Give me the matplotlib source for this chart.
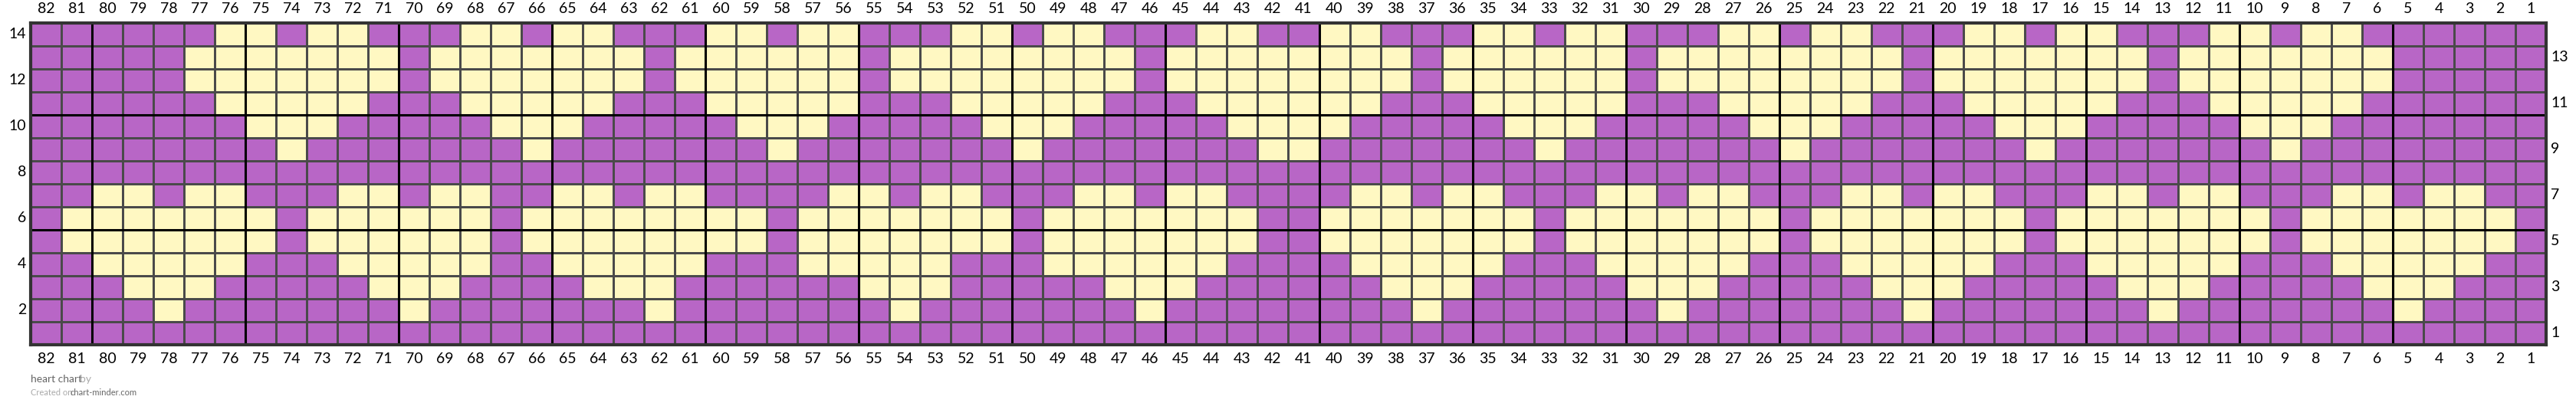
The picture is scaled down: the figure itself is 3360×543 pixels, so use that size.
import numpy as np
import matplotlib.pyplot as plt
from matplotlib.colors import ListedColormap

# stitch columns, left to right
col_numbers = list(range(82, 0, -1))
row_numbers = list(range(1, 15))

# chart rows, top (14) to bottom (1); "1" = yellow, "." = purple; cols 82..1
rows_top_down = [
    "......11.11." "..11.11...11" ".11...11.11." "..11..11...1" "1.11...11.11" "...11.11...1" "1.11......",
    ".....1111111" ".1111111.111" "111.11111111" ".11111111.11" "1111.1111111" "1.1111111.11" "11111.....",
    ".....1111111" ".1111111.111" "111.11111111" ".11111111.11" "1111.1111111" "1.1111111.11" "11111.....",
    "......11111." "..11111...11" "111...11111." "..111111...1" "1111...11111" "...11111...1" "1111......",
    ".......111.." "...111.....1" "11.....111.." "...1111....." "111.....111." "....111....." "111.......",
    "." * 82,  # row 9, filled from row9_yellow below
    "." * 82,
    "..11.11...11" ".11..11.11.." "..11.11...11" ".11....11.11" "...11.11...1" "1.11...11.11" "...11.11..",
    ".1111111.111" "111.11111111" ".1111111.111" "1111..111111" "1.1111111.11" "11111.111111" "1.1111111.",
    ".1111111.111" "111.11111111" ".1111111.111" "1111..111111" "1.1111111.11" "11111.111111" "1.1111111.",
    "..11111...11" "111..11111.." ".11111...111" "111....11111" "...11111...1" "1111...11111" "...11111..",
    "...111.....1" "11....111..." "...111.....1" "11......111." "....111....." "111.....111." "....111...",
    "." * 82,  # row 2, filled from row2_yellow below
    "." * 82,
]

# single yellow stitches (column numbers)
row9_yellow = [74, 66, 58, 50, 42, 41, 33, 25, 17, 9]
row2_yellow = [78, 70, 62, 54, 46, 37, 29, 21, 13, 5]

grid = np.array([[1 if ch == "1" else 0 for ch in r.ljust(82, ".")[:82]] for r in rows_top_down])
for c in row9_yellow:
    grid[14 - 9, 82 - c] = 1
for c in row2_yellow:
    grid[14 - 2, 82 - c] = 1

purple = "#b866c6"
yellow = "#fff8c2"

fig = plt.figure(figsize=(33.6, 5.43), dpi=100)
ax = fig.add_axes([40 / 3360, 93 / 543, 3281 / 3360, 420 / 543])
ax.pcolormesh(np.arange(83), np.arange(15), grid[::-1], cmap=ListedColormap([purple, yellow]),
              edgecolors="#4a4a4a", linewidth=0.8, vmin=0, vmax=1)
ax.set_xlim(0, 82)
ax.set_ylim(0, 14)

# thick lines every 5 stitches / rows, counted from the right and bottom
for k in range(1, 17):
    ax.axvline(82 - 5 * k, color="black", lw=2.2)
for k in (5, 10):
    ax.axhline(k, color="black", lw=2.2)
for s in ax.spines.values():
    s.set_linewidth(3)
    s.set_color("#333333")

ax.set_xticks(np.arange(82) + 0.5)
ax.set_xticklabels([str(c) for c in col_numbers])
ax.tick_params(axis="x", top=True, labeltop=True, length=0, labelsize=14, pad=7)
ax.set_yticks([])
for r in row_numbers:
    if r % 2 == 0:
        ax.text(-0.15, r - 0.5, str(r), ha="right", va="center", fontsize=14)
    else:
        ax.text(82.15, r - 0.5, str(r), ha="left", va="center", fontsize=14)

fig.text(40 / 3360, 1 - 495 / 543, "heart chart", fontsize=10, color="#666666", va="center")
fig.text(104 / 3360, 1 - 495 / 543, "by", fontsize=10, color="#aaaaaa", va="center")
fig.text(40 / 3360, 1 - 513 / 543, "Created on", fontsize=8, color="#aaaaaa", va="center")
fig.text(92 / 3360, 1 - 513 / 543, "chart-minder.com", fontsize=8, color="#666666", va="center")

for t in fig.findobj(plt.Text):
    t.set_family(["Lato", "DejaVu Sans"])

fig.savefig("out.png", dpi=100)
